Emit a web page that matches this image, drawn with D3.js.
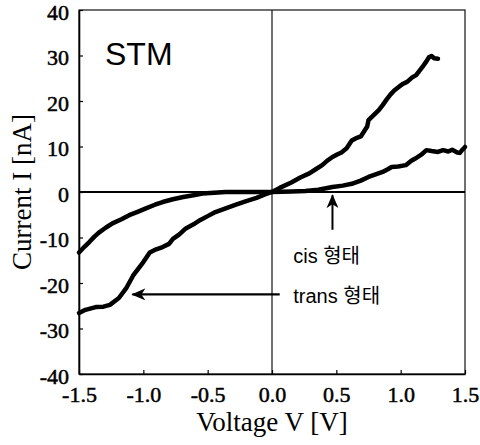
<!DOCTYPE html>
<html>
<head>
<meta charset="utf-8">
<script src="https://cdn.jsdelivr.net/npm/d3@7"></script>
<style>
  body { margin: 0; background: #fff; }
  svg { display: block; }
</style>
</head>
<body>
<svg id="chart"></svg>
<script>
// I-V curves (V in volts, I in nA)
const transV = [-1.5, -1.45, -1.37, -1.31, -1.26, -1.19, -1.13, -1.08, -1.0, -0.95, -0.9, -0.85, -0.8, -0.77, -0.72, -0.67, -0.61, -0.56, -0.5, -0.44, -0.36, -0.28, -0.2, -0.12, -0.06, 0.0,
  0.06, 0.15, 0.22, 0.29, 0.34, 0.39, 0.43, 0.47, 0.51, 0.54, 0.58, 0.62, 0.66, 0.69, 0.72, 0.74, 0.75, 0.79, 0.83, 0.86, 0.89, 0.92, 0.95, 0.99, 1.02, 1.05, 1.09, 1.12, 1.15, 1.18, 1.2, 1.22, 1.24, 1.26, 1.29];
const transI = [-26.6, -25.9, -25.3, -25.2, -24.8, -23.3, -21.0, -18.4, -15.4, -13.3, -12.6, -12.1, -11.4, -10.3, -9.3, -8.0, -7.1, -6.2, -5.3, -4.4, -3.6, -2.8, -2.0, -1.3, -0.6, 0.0,
  0.9, 2.1, 3.2, 4.1, 5.0, 5.9, 6.9, 7.7, 8.3, 8.7, 9.6, 11.3, 11.9, 12.2, 13.5, 14.4, 15.8, 16.9, 18.0, 19.1, 20.3, 21.4, 22.3, 23.2, 23.8, 24.2, 25.2, 25.7, 26.8, 27.9, 28.7, 29.6, 29.9, 29.4, 29.3];

const cisV = [-1.5, -1.46, -1.42, -1.38, -1.34, -1.29, -1.24, -1.17, -1.11, -1.04, -0.98, -0.91, -0.85, -0.77, -0.69, -0.61, -0.54, -0.45, -0.36, -0.2, 0.0,
  0.15, 0.26, 0.36, 0.47, 0.55, 0.62, 0.69, 0.75, 0.8, 0.86, 0.9, 0.93, 0.98, 1.04, 1.08, 1.11, 1.16, 1.2, 1.24, 1.29, 1.33, 1.37, 1.4, 1.44, 1.46, 1.48, 1.5];
const cisI = [-13.3, -12.1, -11.0, -9.8, -8.8, -7.8, -6.9, -6.0, -5.1, -4.3, -3.6, -2.8, -2.2, -1.6, -1.1, -0.7, -0.35, -0.15, 0.0, 0.0, 0.0,
  0.1, 0.2, 0.5, 1.1, 1.4, 1.8, 2.5, 3.3, 3.8, 4.4, 5.0, 5.5, 5.6, 5.9, 6.8, 7.3, 8.2, 9.2, 9.0, 8.8, 9.2, 8.9, 9.3, 8.7, 8.6, 9.3, 9.9];

const xTicks = [-1.5, -1.0, -0.5, 0.0, 0.5, 1.0, 1.5];
const yTicks = [-40, -30, -20, -10, 0, 10, 20, 30, 40];

// annotation anchors, in data units
const cisArrow = {v: 0.47, from: -8.3, to: -0.7};
const transArrow = {i: -22.5, from: 0.06, to: -1.085};
const notes = [
  {text: "cis 형태", v: 0.165, i: -15.6},
  {text: "trans 형태", v: 0.165, i: -24.4}
];

const W = 480, H = 445;
const svg = d3.select("#chart").attr("width", W).attr("height", H);

const x = d3.scaleLinear().domain([-1.5, 1.5]).range([79, 465]);
const y = d3.scaleLinear().domain([-40, 40]).range([374, 10]);

const serif = "'Liberation Serif', 'Times New Roman', serif";
const sans = "'Liberation Sans', Arial, 'Noto Sans CJK KR', sans-serif";

// plain hyphen for negatives, like the original
const loc = d3.formatLocale({decimal: ".", thousands: ",", grouping: [3], currency: ["", ""], minus: "-"});

// frame
svg.append("rect")
  .attr("x", x(-1.5)).attr("y", y(40))
  .attr("width", x(1.5) - x(-1.5)).attr("height", y(-40) - y(40))
  .attr("fill", "none").attr("stroke", "#111").attr("stroke-width", 1.2);

// zero lines
svg.append("line")
  .attr("x1", x(0)).attr("x2", x(0)).attr("y1", y(40)).attr("y2", y(-40))
  .attr("stroke", "#111").attr("stroke-width", 1.2);
svg.append("line")
  .attr("x1", x(-1.5)).attr("x2", x(1.5)).attr("y1", y(0)).attr("y2", y(0))
  .attr("stroke", "#000").attr("stroke-width", 2.2);

// axes, ticks pointing inward
const xAxis = d3.axisBottom(x).tickValues(xTicks).tickFormat(loc.format(".1f"))
  .tickSizeInner(-4).tickSizeOuter(0).tickPadding(12);
const yAxis = d3.axisLeft(y).tickValues(yTicks).tickFormat(loc.format("d"))
  .tickSizeInner(-4).tickSizeOuter(0).tickPadding(10);

const gx = svg.append("g").attr("transform", `translate(0,${y(-40)})`).call(xAxis);
const gy = svg.append("g").attr("transform", `translate(${x(-1.5)},0)`).call(yAxis);

[gx, gy].forEach(g => {
  g.select(".domain").attr("stroke", "#000").attr("stroke-width", 1.6);
  g.selectAll(".tick line").attr("stroke", "#000").attr("stroke-width", 1.2);
  g.selectAll(".tick text")
    .attr("fill", "#000")
    .attr("stroke", "#000").attr("stroke-width", 0.5)
    .style("font-family", serif).style("font-size", "22px");
});
gy.selectAll(".tick text").attr("dy", "0.42em");

// curves
const line = d3.line().x(d => x(d[0])).y(d => y(d[1]));
const transData = d3.zip(transV, transI);
const cisData = d3.zip(cisV, cisI);

[transData, cisData].forEach(data => {
  svg.append("path")
    .datum(data)
    .attr("d", line)
    .attr("fill", "none")
    .attr("stroke", "#000")
    .attr("stroke-width", 4.5)
    .attr("stroke-linejoin", "round")
    .attr("stroke-linecap", "round");
});

// arrowhead marker
svg.append("defs").append("marker")
  .attr("id", "head")
  .attr("viewBox", "0 0 14 12")
  .attr("refX", 13).attr("refY", 6)
  .attr("markerWidth", 14).attr("markerHeight", 12)
  .attr("markerUnits", "userSpaceOnUse")
  .attr("orient", "auto")
  .append("path")
  .attr("d", "M0,0 L14,6 L0,12 L4,6 Z")
  .attr("fill", "#000");

svg.append("line")
  .attr("x1", x(cisArrow.v)).attr("x2", x(cisArrow.v))
  .attr("y1", y(cisArrow.from)).attr("y2", y(cisArrow.to))
  .attr("stroke", "#000").attr("stroke-width", 2)
  .attr("marker-end", "url(#head)");

svg.append("line")
  .attr("x1", x(transArrow.from)).attr("x2", x(transArrow.to))
  .attr("y1", y(transArrow.i)).attr("y2", y(transArrow.i))
  .attr("stroke", "#000").attr("stroke-width", 2.2)
  .attr("marker-end", "url(#head)");

svg.selectAll(".note")
  .data(notes)
  .enter().append("text")
  .attr("class", "note")
  .attr("x", d => x(d.v))
  .attr("y", d => y(d.i))
  .text(d => d.text)
  .style("font-family", sans)
  .style("font-size", "20px")
  .attr("fill", "#000");

// panel tag
svg.append("text")
  .attr("x", 105).attr("y", 65)
  .text("STM")
  .style("font-family", sans)
  .style("font-size", "32px")
  .attr("fill", "#000");

// axis titles
svg.append("text")
  .attr("x", (x(-1.5) + x(1.5)) / 2).attr("y", 431)
  .attr("text-anchor", "middle")
  .text("Voltage V [V]")
  .style("font-family", serif).style("font-size", "27px")
  .attr("fill", "#000");

svg.append("text")
  .attr("transform", `translate(31,${y(0)}) rotate(-90)`)
  .attr("text-anchor", "middle")
  .text("Current I [nA]")
  .style("font-family", serif).style("font-size", "27px")
  .attr("fill", "#000");
</script>
</body>
</html>
